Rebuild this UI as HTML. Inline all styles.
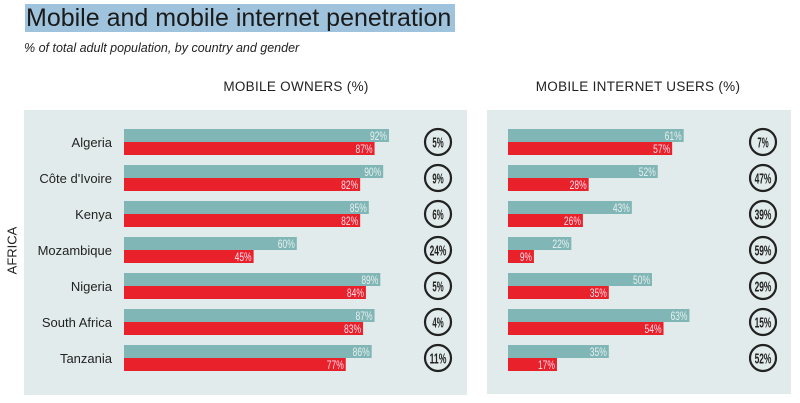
<!DOCTYPE html>
<html><head><meta charset="utf-8"><style>
body{margin:0;width:800px;height:403px;background:#fff;font-family:"Liberation Sans",sans-serif;overflow:hidden;position:relative}
.a{position:absolute}
</style></head><body>
<div class="a" style="left:25px;top:4px;width:430px;height:28px;background:#9fc3dc"></div>
<div class="a" style="left:26px;top:3px;font-size:25px;color:#1a1a1a;line-height:30px">Mobile and mobile internet penetration</div>
<div class="a" style="left:24px;top:41px;font-size:12.5px;font-style:italic;color:#222">% of total adult population, by country and gender</div>
<div class="a" style="left:196px;top:79px;width:200px;text-align:center;font-size:13.5px;color:#222;letter-spacing:0.3px">MOBILE OWNERS (%)</div>
<div class="a" style="left:518px;top:79px;width:240px;text-align:center;font-size:13.5px;color:#222;letter-spacing:0.3px">MOBILE INTERNET USERS (%)</div>
<div class="a" style="left:24px;top:110px;width:443px;height:285px;background:#e2ebeb"></div>
<div class="a" style="left:487px;top:110px;width:304px;height:284px;background:#e2ebeb"></div>
<div class="a" style="left:-13px;top:243px;width:50px;text-align:center;transform:rotate(-90deg);font-size:13px;color:#222">AFRICA</div>
<svg class="a" style="left:0;top:0" width="800" height="403" font-family="Liberation Sans Narrow, Liberation Sans, sans-serif">
<g id="g"></g>
</svg>
<script>
var d=[["Algeria",92,87,"5%",61,57,"7%"],["Côte d'Ivoire",90,82,"9%",52,28,"47%"],["Kenya",85,82,"6%",43,26,"39%"],["Mozambique",60,45,"24%",22,9,"59%"],["Nigeria",89,84,"5%",50,35,"29%"],["South Africa",87,83,"4%",63,54,"15%"],["Tanzania",86,77,"11%",35,17,"52%"]];
var s="",k=2.88;
d.forEach(function(r,i){var y=129+i*36;
s+='<text x="112" y="'+(y+18)+'" text-anchor="end" font-family="Liberation Sans,sans-serif" font-size="13" fill="#222">'+r[0]+'</text>';
[[124,r[1],r[2],438,r[3]],[508,r[4],r[5],763,r[6]]].forEach(function(p){
var w1=p[1]*k,w2=p[2]*k;
s+='<rect x="'+p[0]+'" y="'+y+'" width="'+w1+'" height="13" fill="#80b6b5"/>';
s+='<rect x="'+p[0]+'" y="'+(y+13)+'" width="'+w2+'" height="13" fill="#e8212a"/>';
s+='<text x="'+(p[0]+w1-2)+'" y="'+(y+11)+'" text-anchor="end" font-size="12" fill="#e6f0f0" textLength="'+(String(p[1]).length*5+7)+'" lengthAdjust="spacingAndGlyphs">'+p[1]+'%</text>';
s+='<text x="'+(p[0]+w2-2)+'" y="'+(y+24)+'" text-anchor="end" font-size="12" fill="#fde" textLength="'+(String(p[2]).length*5+7)+'" lengthAdjust="spacingAndGlyphs">'+p[2]+'%</text>';
s+='<circle cx="'+p[3]+'" cy="'+(y+13)+'" r="13" fill="none" stroke="#222" stroke-width="2.2"/>';
s+='<text x="'+p[3]+'" y="'+(y+18.5)+'" text-anchor="middle" font-size="15" font-weight="bold" fill="#222" textLength="'+(p[4].length*5.6)+'" lengthAdjust="spacingAndGlyphs">'+p[4]+'</text>';
});});
document.getElementById('g').innerHTML=s;
</script>
</body></html>
